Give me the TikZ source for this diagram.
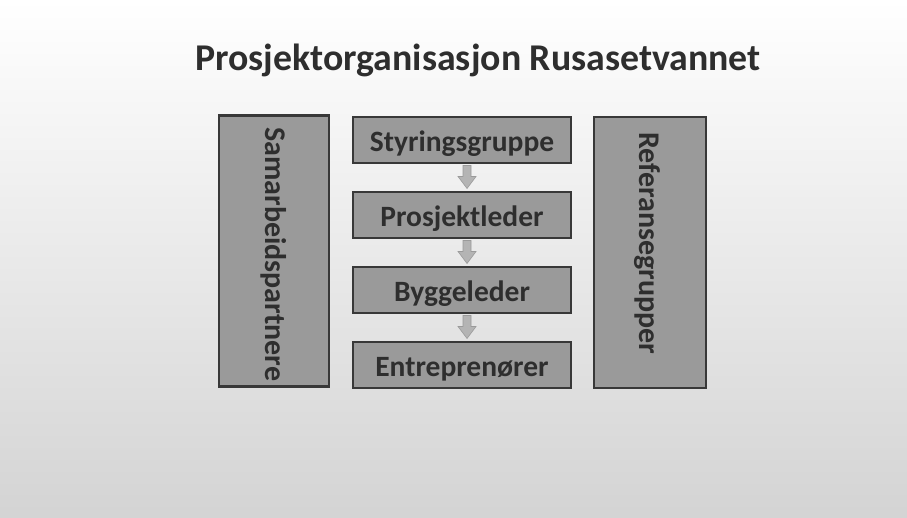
\documentclass[tikz,border=0pt]{standalone}
\usepackage{fontspec}
\setmainfont{Carlito}
\usetikzlibrary{calc}
\definecolor{boxfill}{HTML}{9A9A9A}
\definecolor{boxline}{HTML}{383838}
\definecolor{txt}{HTML}{2E2E2E}
\definecolor{arrowfill}{HTML}{B4B4B4}
\definecolor{arrowline}{HTML}{9A9A9A}
\tikzset{
  box/.style={draw=boxline, line width=2.6pt, fill=boxfill, inner sep=0pt},
  midbox/.style={box, minimum width=218pt, minimum height=46pt, text height=23pt, text depth=0pt, text=txt, font=\bfseries\fontsize{29.5}{32}\selectfont},
  sidebox/.style={box, minimum width=110pt, minimum height=271pt},
  sidetext/.style={rotate=-90, anchor=west, text=txt, inner sep=0pt, font=\bfseries\fontsize{30}{32}\selectfont},
  blockarrow/.style={fill=arrowfill, draw=arrowline, line width=0.6pt},
}
\begin{document}
\begin{tikzpicture}[x=1pt,y=-1pt]
\shade[top color=white, middle color=black!5, bottom color=black!17] (0,0) rectangle (907,517);
\useasboundingbox (0,0) rectangle (907,517);
\node[text=txt, font=\bfseries\fontsize{37.8}{42}\selectfont] (title) at (478,60) {Prosjektorganisasjon Rusasetvannet};
\node[sidebox] (left) at (274,251) {};
\node[sidetext] (lefttext) at (274,127) {Samarbeidspartnere};
\node[sidebox, minimum width=112pt] (right) at (650,252.5) {};
\node[sidetext] (righttext) at (647,132) {Referansegrupper};
\node[midbox] (s1) at (462,140) {Styringsgruppe};
\node[midbox] (s2) at (462,215) {Prosjektleder};
\node[midbox] (s3) at (462,290) {Byggeleder};
\node[midbox] (s4) at (462,365) {Entreprenører};
\foreach \a/\b in {s1/s2, s2/s3, s3/s4}{
  \path let \p1=($(\a.south)!0.5!(\b.north)$) in
    coordinate (m) at (\x1+5,\y1);
  \draw[blockarrow] ($(m)+(-4,-12)$) -- ($(m)+(4,-12)$) -- ($(m)+(4,-1)$) -- ($(m)+(9,-1)$) -- ($(m)+(0,11)$) -- ($(m)+(-9,-1)$) -- ($(m)+(-4,-1)$) -- cycle;
}
\end{tikzpicture}
\end{document}
